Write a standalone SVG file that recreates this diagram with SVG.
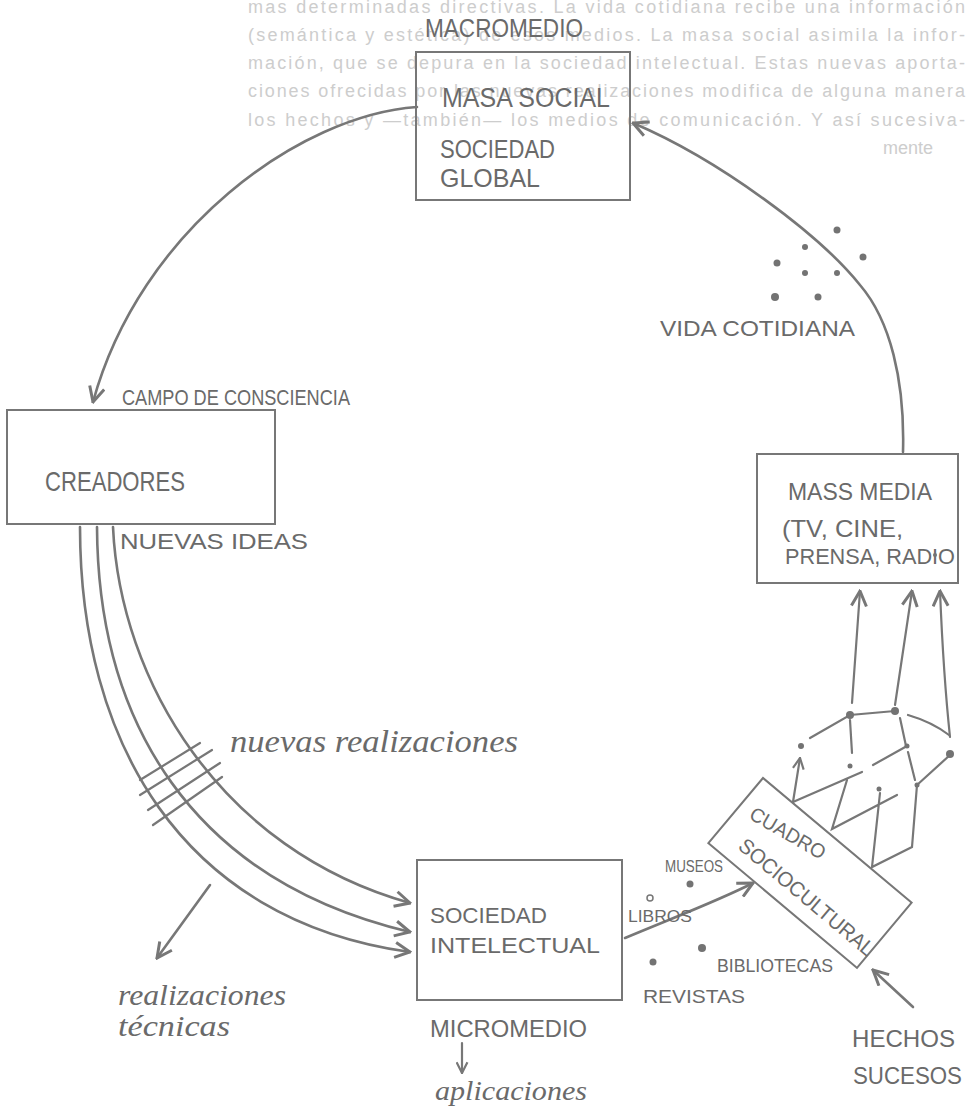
<svg xmlns="http://www.w3.org/2000/svg" width="969" height="1115" viewBox="0 0 969 1115">
<defs>
<style>
.ghost{font-family:"Liberation Sans",Arial,sans-serif;font-size:18px;fill:#cdcdcd}
.hw{font-family:"Liberation Sans",Arial,sans-serif;fill:#6a6a6a}
.cur{font-family:"Liberation Serif","Times New Roman",serif;font-style:italic;fill:#6a6a6a}
.box{fill:none;stroke:#777777;stroke-width:2}
.ln{fill:none;stroke:#777777;stroke-width:2.6;stroke-linecap:round}
.thin{fill:none;stroke:#777777;stroke-width:2.2;stroke-linecap:round}
.dot{fill:#737373}
</style>
<marker id="ah" viewBox="0 0 12 12" refX="11" refY="6" markerWidth="18" markerHeight="18" markerUnits="userSpaceOnUse" orient="auto">
<path d="M1,1 L11,6 L1,11" fill="none" stroke="#777777" stroke-width="2"/>
</marker>
<marker id="ahs" viewBox="0 0 12 12" refX="11" refY="6" markerWidth="13" markerHeight="13" markerUnits="userSpaceOnUse" orient="auto">
<path d="M1,1 L11,6 L1,11" fill="none" stroke="#777777" stroke-width="2"/>
</marker>
</defs>
<rect width="969" height="1115" fill="#ffffff"/>

<g id="page-text">
<text class="ghost" x="248" y="13" textLength="717" lengthAdjust="spacing">mas determinadas directivas. La vida cotidiana recibe una información</text>
<text class="ghost" x="248" y="41" textLength="717" lengthAdjust="spacing">(semántica y estética) de esos medios. La masa social asimila la infor-</text>
<text class="ghost" x="248" y="69" textLength="717" lengthAdjust="spacing">mación, que se depura en la sociedad intelectual. Estas nuevas aporta-</text>
<text class="ghost" x="248" y="97" textLength="717" lengthAdjust="spacing">ciones ofrecidas por las nuevas realizaciones modifica de alguna manera</text>
<text class="ghost" x="248" y="126" textLength="717" lengthAdjust="spacing">los hechos y —también— los medios de comunicación. Y así sucesiva-</text>
<text class="ghost" x="883" y="154">mente</text>
</g>

<g id="connectors">
<path class="ln" d="M417,107 C 300,115 140,230 93,402" marker-end="url(#ah)"/>
<path class="ln" d="M903,452 C 905,380 890,320 860,285 C 820,235 720,160 633,123" marker-end="url(#ah)"/>
<path class="ln" d="M113,527 C 120,680 220,850 410,903" marker-end="url(#ah)"/>
<path class="ln" d="M97,527 C 98,720 190,880 410,932" marker-end="url(#ah)"/>
<path class="ln" d="M80,527 C 80,740 180,920 410,952" marker-end="url(#ah)"/>
<path class="thin" d="M140,780 L200,743 M140,795 L212,750 M148,810 L220,763 M153,825 L222,777"/>
<path class="ln" d="M210,885 L157,958" marker-end="url(#ah)"/>
<path class="ln" d="M625,938 C 680,915 720,900 753,883" marker-end="url(#ah)"/>
<path class="ln" d="M913,1007 L873,970" marker-end="url(#ah)"/>
<path class="thin" d="M462,1043 L462,1073" marker-end="url(#ahs)"/>
<path class="thin" d="M793,802 L800,758" marker-end="url(#ahs)"/>
<path class="thin" d="M852,703 L860,591" marker-end="url(#ah)"/>
<path class="thin" d="M895,705 L912,591" marker-end="url(#ah)"/>
<path class="thin" d="M950,737 C 945,690 942,640 940,591" marker-end="url(#ah)"/>
<path class="thin" d="M793,802 L862,772 M847,780 L832,829 L897,795 M880,793 L872,867 L912,847 L917,785 M908,752 L915,780 M917,785 L950,755 M810,738 L850,715 L895,711 M908,715 Q932,722 949,735 M850,720 L852,753 M900,718 L906,746 M873,765 L907,746"/>
<circle class="dot" cx="801" cy="746" r="3"/>
<circle class="dot" cx="850" cy="715" r="4"/>
<circle class="dot" cx="895" cy="711" r="4"/>
<circle class="dot" cx="950" cy="754" r="4"/>
<circle class="dot" cx="850" cy="766" r="2.5"/>
<circle class="dot" cx="907" cy="746" r="2.5"/>
<circle class="dot" cx="879" cy="789" r="2.5"/>
<circle class="dot" cx="917" cy="785" r="2.5"/>
</g>

<g id="masa-social">
<rect class="box" x="416" y="52" width="214" height="148"/>
<text class="hw" x="425" y="37" font-size="26" textLength="158" lengthAdjust="spacingAndGlyphs">MACROMEDIO</text>
<text class="hw" x="442" y="107" font-size="27" textLength="168" lengthAdjust="spacingAndGlyphs">MASA SOCIAL</text>
<text class="hw" x="440" y="158" font-size="25" textLength="115" lengthAdjust="spacingAndGlyphs">SOCIEDAD</text>
<text class="hw" x="440" y="187" font-size="25" textLength="100" lengthAdjust="spacingAndGlyphs">GLOBAL</text>
</g>

<g id="creadores">
<rect class="box" x="7" y="410" width="268" height="114"/>
<text class="hw" x="122" y="405" font-size="22" textLength="228" lengthAdjust="spacingAndGlyphs">CAMPO DE CONSCIENCIA</text>
<text class="hw" x="45" y="491" font-size="28" textLength="140" lengthAdjust="spacingAndGlyphs">CREADORES</text>
<text class="hw" x="120" y="549" font-size="22" textLength="188" lengthAdjust="spacingAndGlyphs">NUEVAS IDEAS</text>
</g>

<g id="nuevas-realizaciones">
<text class="cur" x="230" y="752" font-size="32" textLength="288" lengthAdjust="spacingAndGlyphs">nuevas realizaciones</text>
</g>

<g id="realizaciones-tecnicas">
<text class="cur" x="118" y="1005" font-size="30" textLength="168" lengthAdjust="spacingAndGlyphs">realizaciones</text>
<text class="cur" x="118" y="1036" font-size="30" textLength="112" lengthAdjust="spacingAndGlyphs">técnicas</text>
</g>

<g id="sociedad-intelectual">
<rect class="box" x="417" y="860" width="205" height="140"/>
<text class="hw" x="430" y="923" font-size="22" textLength="117" lengthAdjust="spacingAndGlyphs">SOCIEDAD</text>
<text class="hw" x="430" y="953" font-size="22" textLength="170" lengthAdjust="spacingAndGlyphs">INTELECTUAL</text>
<text class="hw" x="430" y="1037" font-size="24" textLength="157" lengthAdjust="spacingAndGlyphs">MICROMEDIO</text>
<text class="cur" x="435" y="1100" font-size="28" textLength="152" lengthAdjust="spacingAndGlyphs">aplicaciones</text>
</g>

<g id="media-labels">
<text class="hw" x="665" y="872" font-size="16" textLength="58" lengthAdjust="spacingAndGlyphs">MUSEOS</text>
<circle class="dot" cx="690" cy="884" r="3.5"/>
<circle cx="650" cy="898" r="3" fill="none" stroke="#777777" stroke-width="1.5"/>
<text class="hw" x="628" y="922" font-size="16" textLength="64" lengthAdjust="spacingAndGlyphs">LIBROS</text>
<circle class="dot" cx="702" cy="948" r="4"/>
<text class="hw" x="717" y="972" font-size="18" textLength="116" lengthAdjust="spacingAndGlyphs">BIBLIOTECAS</text>
<circle class="dot" cx="653" cy="962" r="3.5"/>
<text class="hw" x="643" y="1003" font-size="18" textLength="102" lengthAdjust="spacingAndGlyphs">REVISTAS</text>
</g>

<g id="cuadro-sociocultural">
<rect class="box" x="0" y="0" width="194" height="85" transform="translate(763,778) rotate(40)"/>
<text class="hw" font-size="20" textLength="84" lengthAdjust="spacingAndGlyphs" transform="translate(748,818) rotate(30)">CUADRO</text>
<text class="hw" font-size="21" textLength="170" lengthAdjust="spacingAndGlyphs" transform="translate(737,848) rotate(40)">SOCIOCULTURAL</text>
</g>

<g id="hechos-sucesos">
<text class="hw" x="852" y="1047" font-size="24" textLength="103" lengthAdjust="spacingAndGlyphs">HECHOS</text>
<text class="hw" x="853" y="1084" font-size="24" textLength="109" lengthAdjust="spacingAndGlyphs">SUCESOS</text>
</g>

<g id="mass-media">
<rect class="box" x="757" y="454" width="201" height="129"/>
<text class="hw" x="788" y="500" font-size="24" textLength="144" lengthAdjust="spacingAndGlyphs">MASS MEDIA</text>
<text class="hw" x="782" y="537" font-size="24" textLength="121" lengthAdjust="spacingAndGlyphs">(TV, CINE,</text>
<text class="hw" x="785" y="564" font-size="22" textLength="170" lengthAdjust="spacingAndGlyphs">PRENSA, RADIO</text>
<circle class="dot" cx="935" cy="555" r="2"/>
</g>

<g id="vida-cotidiana">
<text class="hw" x="660" y="336" font-size="22" textLength="195" lengthAdjust="spacingAndGlyphs">VIDA COTIDIANA</text>
<circle class="dot" cx="837" cy="230" r="3.5"/>
<circle class="dot" cx="805" cy="247" r="3"/>
<circle class="dot" cx="863" cy="257" r="3.5"/>
<circle class="dot" cx="777" cy="263" r="3.5"/>
<circle class="dot" cx="805" cy="273" r="3"/>
<circle class="dot" cx="837" cy="273" r="3"/>
<circle class="dot" cx="775" cy="297" r="4"/>
<circle class="dot" cx="818" cy="297" r="3.5"/>
</g>
</svg>
